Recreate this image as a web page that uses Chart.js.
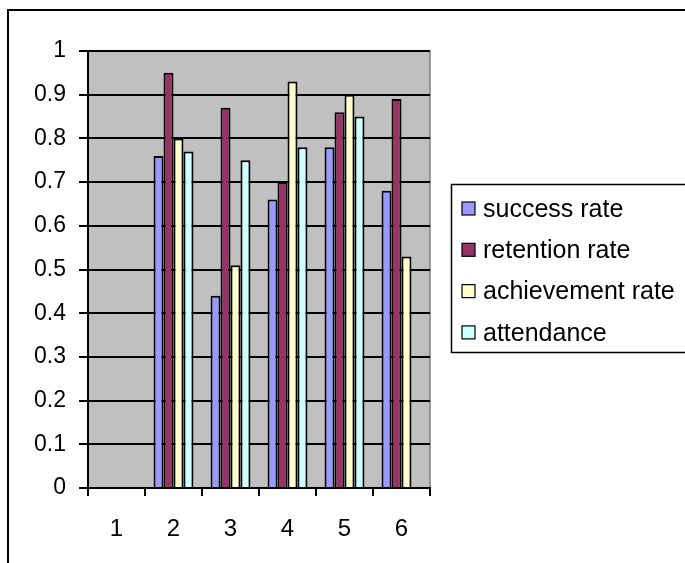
<!DOCTYPE html>
<html>
<head>
<meta charset="utf-8">
<script src="https://cdn.jsdelivr.net/npm/chart.js@4.4.0/dist/chart.umd.min.js"></script>
<style>
  html, body { margin: 0; padding: 0; background: #fff; }
  #wrap { width: 685px; height: 563px; }
</style>
</head>
<body>
<div id="wrap"><canvas id="chart" width="685" height="563"></canvas></div>
<script>
// data
const categories = ["1", "2", "3", "4", "5", "6"];
const seriesNames = ["success rate", "retention rate", "achievement rate", "attendance"];
const successRate = [null, 0.76, 0.44, 0.66, 0.78, 0.68];
const retentionRate = [null, 0.95, 0.87, 0.70, 0.86, 0.89];
const achievementRate = [null, 0.80, 0.51, 0.93, 0.90, 0.53];
const attendance = [null, 0.77, 0.75, 0.78, 0.85, null];
const yTicks = [0, 0.1, 0.2, 0.3, 0.4, 0.5, 0.6, 0.7, 0.8, 0.9, 1];

const colors = ["#9999FF", "#993366", "#FFFFCC", "#CCFFFF"];
const FONT = "'Liberation Sans', Arial, sans-serif";

const seriesValues = [successRate, retentionRate, achievementRate, attendance];

// grey plot area, outer frame and the boxed legend
const decor = {
  id: "decor",
  beforeDraw(chart) {
    const { ctx, chartArea: a } = chart;
    ctx.save();
    ctx.fillStyle = "#C0C0C0";
    ctx.fillRect(a.left, a.top, a.right - a.left, a.bottom - a.top);
    ctx.strokeStyle = "#808080";
    ctx.lineWidth = 1.5;
    ctx.beginPath();
    ctx.moveTo(a.left, a.top);
    ctx.lineTo(a.right, a.top);
    ctx.lineTo(a.right, a.bottom);
    ctx.stroke();
    ctx.restore();
  },
  afterDraw(chart) {
    const ctx = chart.ctx;
    ctx.save();
    // outer frame
    ctx.strokeStyle = "#000";
    ctx.lineWidth = 2;
    ctx.strokeRect(8, 10, 700, 600);

    // legend box
    ctx.lineWidth = 1.5;
    ctx.fillStyle = "#fff";
    ctx.fillRect(451, 184, 240, 169);
    ctx.strokeRect(451.5, 184.5, 240, 168);
    ctx.font = "25px " + FONT;
    ctx.textBaseline = "middle";
    chart.data.datasets.forEach((ds, i) => {
      const cy = 209 + i * 41.3;
      ctx.fillStyle = ds.backgroundColor;
      ctx.fillRect(462, cy - 7, 13, 13);
      ctx.strokeStyle = "#000";
      ctx.lineWidth = 1.2;
      ctx.strokeRect(462, cy - 7, 13, 13);
      ctx.fillStyle = "#000";
      ctx.fillText(ds.label, 483, cy + 1);
    });
    ctx.restore();
  }
};

new Chart(document.getElementById("chart"), {
  type: "bar",
  data: {
    labels: categories,
    datasets: seriesNames.map((name, i) => ({
      label: name,
      data: seriesValues[i],
      backgroundColor: colors[i],
      borderColor: "#000",
      borderWidth: 2,
      borderSkipped: "bottom",
      categoryPercentage: 0.7,
      barPercentage: 1.0,
    })),
  },
  options: {
    responsive: false,
    animation: false,
    layout: { padding: { left: 0, top: 51, right: 255, bottom: 0 } },
    plugins: { legend: { display: false }, tooltip: { enabled: false } },
    scales: {
      x: {
        grid: {
          offset: true,
          drawOnChartArea: false,
          drawTicks: true,
          tickLength: 8,
          color: "#000",
          lineWidth: 2,
        },
        border: { display: true, color: "#000", width: 2 },
        ticks: { color: "#000", font: { family: FONT, size: 24 }, padding: 19 },
        afterFit(scale) { scale.height = 75; },
      },
      y: {
        min: 0,
        max: 1,
        afterBuildTicks(scale) { scale.ticks = yTicks.map(v => ({ value: v })); },
        grid: {
          color: "#000",
          lineWidth: 2,
          drawTicks: true,
          tickLength: 9,
        },
        border: { display: true, color: "#000", width: 2 },
        ticks: {
          color: "#000",
          font: { family: FONT, size: 23 },
          padding: 13,
          callback: v => String(v),
        },
        afterFit(scale) { scale.width = 88; },
      },
    },
  },
  plugins: [decor],
});
</script>
</body>
</html>
